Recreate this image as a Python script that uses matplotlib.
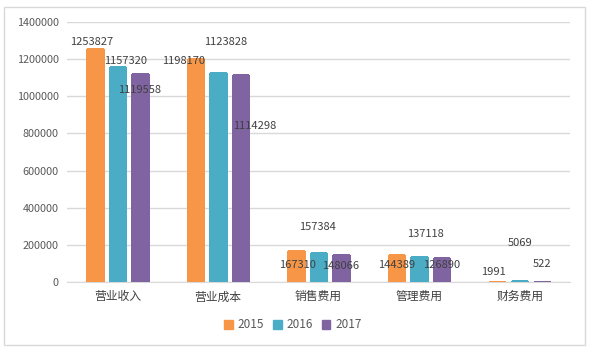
import matplotlib.pyplot as plt
import matplotlib.patches as mpatches
import matplotlib.transforms as mtransforms
import numpy as np

plt.rcParams['font.family'] = ['Noto Sans CJK SC', 'DejaVu Sans']

categories = ['营业收入', '营业成本', '销售费用', '管理费用', '财务费用']
years = ['2015', '2016', '2017']
v2015 = [1253827, 1198170, 167310, 144389, 1991]
v2016 = [1157320, 1123828, 157384, 137118, 5069]
v2017 = [1119558, 1114298, 148066, 126890, 522]
colors = ['#F79646', '#4BACC6', '#8064A2']

# label offsets (pixels) from bar top, mimicking the odd Excel placement
offsets = [
    [(-3, 7), (-12, -2), (1, -14), (0, -10), (-4, 10)],
    [(8, 6), (8, 31), (-1, 26), (6, 23), (0, 38)],
    [(0, -16), (14, -51), (0, -11), (0, -7), (0, 18)],
]

fig = plt.figure(figsize=(5.96, 3.55), dpi=100)
fig.patches.append(mpatches.Rectangle((4 / 596, 1 - 345 / 355), 581 / 596, 338 / 355,
                                      transform=fig.transFigure, fill=False,
                                      edgecolor='#D9D9D9', linewidth=1))
ax = fig.add_axes([67 / 596, 1 - 282 / 355, 503 / 596, 260 / 355])

x = np.arange(len(categories))
step = 0.223
width = 0.155
series = [v2015, v2016, v2017]
for i, vals in enumerate(series):
    bars = ax.bar(x + (i - 1) * step, vals, width, color=colors[i], edgecolor=colors[i],
                  linewidth=1, antialiased=False, joinstyle='miter', label=years[i], zorder=3)
    for j, b in enumerate(bars):
        dx, dy = offsets[i][j]
        ax.annotate(str(vals[j]), (b.get_x() + b.get_width() / 2, b.get_height()),
                    xytext=(dx, dy), textcoords='offset pixels', ha='center', va='center',
                    fontsize=8, color='#404040', zorder=4)

ax.set_xlim(-0.5, len(categories) - 0.5)
ax.set_ylim(0, 1400000)
ax.set_yticks(np.arange(0, 1400001, 200000))
ax.set_yticklabels([str(v) for v in range(0, 1400001, 200000)], fontsize=7.8, color='#595959')
ax.set_xticks(x)
ax.set_xticklabels(categories, fontsize=8.5, color='#404040')
shift = mtransforms.ScaledTranslation(-5 / 100, 0, fig.dpi_scale_trans)
for lbl in ax.get_xticklabels():
    lbl.set_transform(lbl.get_transform() + shift)
ax.tick_params(axis='both', length=0, pad=6)
ax.grid(axis='y', color='#D9D9D9', linewidth=1, zorder=0)
for s in ['top', 'right', 'left']:
    ax.spines[s].set_visible(False)
ax.spines['bottom'].set_color('#D9D9D9')

ax.legend(loc='center', bbox_to_anchor=(293 / 596, 1 - 325 / 355), bbox_transform=fig.transFigure,
          ncol=3, frameon=False, fontsize=8.5, handlelength=0.7, handleheight=0.7,
          handletextpad=0.4, columnspacing=0.8, labelcolor='#595959')

fig.savefig('out.png', dpi=100)
